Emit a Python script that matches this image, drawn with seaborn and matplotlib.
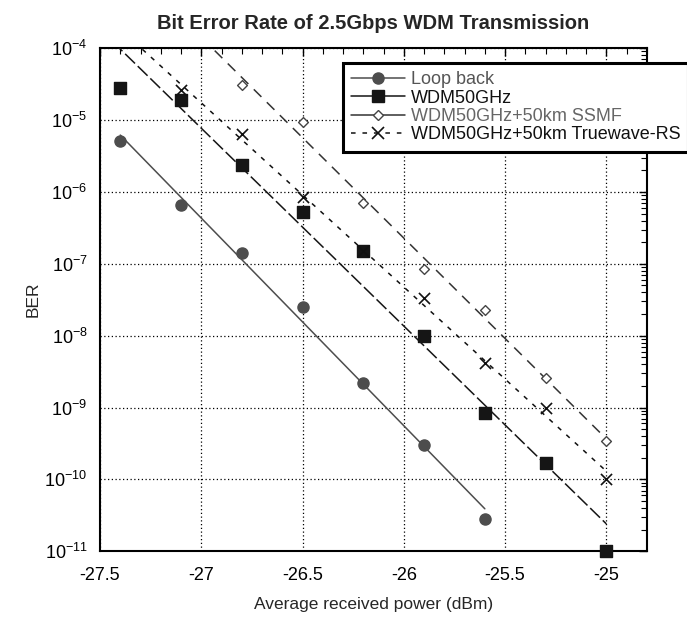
import numpy as np
import seaborn as sns
import matplotlib.pyplot as plt
from matplotlib.lines import Line2D
from matplotlib.ticker import (LogLocator, MultipleLocator, NullFormatter,
                               FuncFormatter, FixedLocator, LogFormatterSciNotation)

# received power grid (dBm)
power = [-27.4, -27.1, -26.8, -26.5, -26.2, -25.9, -25.6, -25.3, -25.0]

ber_loopback = [5.1e-6, 6.6e-7, 1.4e-7, 2.5e-8, 2.2e-9, 3.0e-10, 2.8e-11]
ber_wdm = [2.8e-5, 1.9e-5, 2.4e-6, 5.2e-7, 1.5e-7, 1.0e-8, 8.5e-10, 1.7e-10, 1.0e-11]
ber_ssmf = [3.1e-5, 9.3e-6, 7.0e-7, 8.6e-8, 2.3e-8, 2.6e-9, 3.4e-10]
ber_truewave = [2.6e-5, 6.3e-6, 8.5e-7, 1.5e-7, 3.3e-8, 4.1e-9, 9.7e-10, 1.0e-10]

labels = ["Loop back", "WDM50GHz", "WDM50GHz+50km SSMF", "WDM50GHz+50km Truewave-RS"]
xticks = [-27.5, -27, -26.5, -26, -25.5, -25]
yticks = [1e-11, 1e-10, 1e-9, 1e-8, 1e-7, 1e-6, 1e-5, 1e-4]

sns.set_style("white")
plt.rcParams['font.family'] = ['Liberation Sans', 'DejaVu Sans']
plt.rcParams['axes.unicode_minus'] = False

fig = plt.figure(figsize=(6.87, 6.18), dpi=100)
ax = fig.add_axes([0.1456, 0.108, 0.796, 0.814])

xlim = (-27.5, -24.8)

series = [
    # x, y, color, line style, marker, marker size, face, edge, extend fit to left edge
    (power[:7], ber_loopback, "#4d4d4d", "-", "o", 8, "#4d4d4d", "#4d4d4d", False),
    (power, ber_wdm, "#151515", (0, (9, 2.5)), "s", 9, "#151515", "#151515", True),
    (power[2:], ber_ssmf, "#333333", (0, (7, 5)), "D", 5, "white", "#444444", True),
    (power[1:], ber_truewave, "#111111", (0, (3, 4.5)), "x", 8, "#111111", "#111111", True),
]
text_colors = ["#555555", "#111111", "#666666", "#111111"]

handles = []
for (xs, ys, c, ls, mk, ms, fc, ec, ext), lab in zip(series, labels):
    xs = np.array(xs)
    ys = np.array(ys)
    # straight fit on log scale, like the original trend lines
    slope, icpt = np.polyfit(xs, np.log10(ys), 1)
    x0 = xlim[0] if ext else xs.min()
    xf = np.linspace(x0, xs.max(), 60)
    sns.lineplot(x=xf, y=10 ** (slope * xf + icpt), ax=ax, color=c,
                 linewidth=1.1, linestyle=ls, zorder=3)
    if mk == "x":
        sns.scatterplot(x=xs, y=ys, ax=ax, marker="x", s=ms ** 2, color=c,
                        linewidth=1.2, zorder=4, clip_on=False)
    else:
        sns.scatterplot(x=xs, y=ys, ax=ax, marker=mk, s=ms ** 2, color=fc,
                        edgecolor=ec, linewidth=1.0, zorder=4, clip_on=False)
    handles.append(Line2D([], [], color=c, linestyle=ls if mk == "x" else "-",
                          linewidth=1.1, marker=mk, markersize=ms,
                          markerfacecolor=fc, markeredgecolor=ec,
                          markeredgewidth=1.2 if mk == "x" else 1.0, label=lab))

ax.set_yscale("log")
ax.set_ylim(yticks[0], yticks[-1])
ax.set_xlim(*xlim)

ax.xaxis.set_major_locator(FixedLocator(xticks))
ax.xaxis.set_minor_locator(MultipleLocator(0.1))
ax.xaxis.set_major_formatter(FuncFormatter(lambda v, p: "%g" % v))
ax.yaxis.set_major_locator(FixedLocator(yticks))
ax.yaxis.set_major_formatter(LogFormatterSciNotation())
ax.yaxis.set_minor_locator(LogLocator(base=10, subs=np.arange(2, 10), numticks=20))
ax.yaxis.set_minor_formatter(NullFormatter())

ax.tick_params(which="both", direction="in", top=True, right=True,
               labelsize=13, colors="black")
ax.tick_params(axis="x", pad=11)
ax.tick_params(axis="y", pad=9)
ax.tick_params(which="major", length=6, width=1)
ax.tick_params(which="minor", length=4, width=0.8)

ax.grid(True, which="major", color="black", linestyle=(0, (1, 2)), linewidth=0.9)
for sp in ax.spines.values():
    sp.set_color("black")
    sp.set_linewidth(1.5)

ax.set_xlabel("Average received power (dBm)", fontsize=12.5, labelpad=10)
ax.set_ylabel("BER", fontsize=12.5, labelpad=3)
ax.set_title("Bit Error Rate of 2.5Gbps WDM Transmission", fontsize=14.5,
             fontweight="bold", pad=14)

leg = ax.legend(handles=handles, loc="upper left",
                bbox_to_anchor=(343 / 687, 1 - 63 / 618),
                bbox_transform=fig.transFigure, fontsize=13,
                frameon=True, fancybox=False, edgecolor="black", framealpha=1,
                borderaxespad=0, handlelength=3.0, handletextpad=0.3,
                labelspacing=0.08, borderpad=0.45)
leg.get_frame().set_linewidth(2.2)
for t, tc in zip(leg.get_texts(), text_colors):
    t.set_color(tc)

fig.savefig("out.png", dpi=100)
plt.close(fig)
